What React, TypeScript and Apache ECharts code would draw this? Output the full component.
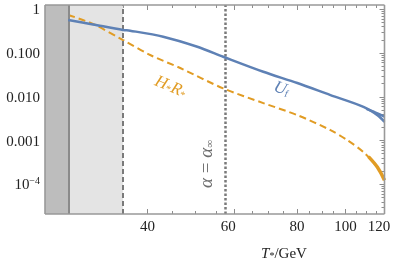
import React, { useEffect, useRef } from "react";
import * as echarts from "echarts";

// x-axis scale: temperature knots and their relative positions along the axis
const knotT = [25, 30, 35, 40, 45, 50, 55, 60, 65, 70, 75, 80, 85, 90, 95, 100, 105, 110, 115, 120];
const knotU = [0, 0.118, 0.23, 0.3018, 0.3755, 0.4425, 0.5044, 0.5584, 0.6097, 0.6587, 0.7012, 0.7425, 0.7796, 0.8162, 0.8504, 0.885, 0.9174, 0.9469, 0.9764, 1];

const xMajorT = [40, 60, 80, 100, 120];
const xMinorT = [30, 35, 45, 50, 55, 65, 70, 75, 85, 90, 95, 105, 110, 115];
const xLabels = ["40", "60", "80", "100", "120"];
const xLabelU = [0.3018, 0.54, 0.7425, 0.885, 0.984];

const yMajor = [1e-4, 1e-3, 1e-2, 1e-1, 1];
const yLabels = ["{b|10}{sup|−4}", "0.001", "0.010", "0.100", "1"];

// U_f curve
const ufT = [27.9, 31.05, 35, 36.44, 43.14, 50.5, 56.9, 68.4, 80.1, 93.6, 108.5, 115.6, 120];
const ufV = [0.569, 0.449, 0.336, 0.324, 0.236, 0.139, 0.0822, 0.0373, 0.0206, 0.01094, 0.0059, 0.00381, 0.00268];
const ufBranchT = [110, 115.6, 120];
const ufBranchV = [0.0053, 0.0042, 0.0035];

// H*R* curve
const hrT = [27.9, 31.05, 35, 40.54, 46.7, 56.9, 68.4, 80.1, 93.6, 100.9, 108.5, 115.6, 120];
const hrV = [0.741, 0.461, 0.198, 0.09, 0.0454, 0.01556, 0.00718, 0.00381, 0.00173, 0.00102, 0.000543, 0.000246, 0.000124];
const hrTailT = [111, 115.6, 120];
const hrTailV = [0.00043, 0.000246, 0.000124];

// regions / reference lines (in T)
const tMin = 25;
const tStart = 27.9;
const tDashed = 35;
const tAlpha = 57;

function tToU(t: number): number {
  if (t <= knotT[0]) return knotU[0];
  for (let i = 1; i < knotT.length; i++) {
    if (t <= knotT[i]) {
      const f = (t - knotT[i - 1]) / (knotT[i] - knotT[i - 1]);
      return knotU[i - 1] + f * (knotU[i] - knotU[i - 1]);
    }
  }
  return knotU[knotU.length - 1];
}

const pairs = (ts: number[], vs: number[]) => ts.map((t, i) => [tToU(t), vs[i]]);

const SERIF = "Liberation Serif, Times New Roman, serif";
const FRAME = "#999999";
const TICK = "#8c8c8c";
const BLUE = "#5E81B5";
const ORANGE = "#E19C24";

const yMinorVals: number[] = [];
for (let k = -5; k <= 0; k++) {
  for (let m = 2; m <= 9; m++) {
    const v = m * Math.pow(10, k);
    if (v > 2.1e-5 && v < 1.25) yMinorVals.push(v);
  }
}

const GRID = { left: 45, top: 5, right: 11.5, bottom: 47 };

export default function App() {
  const ref = useRef<HTMLDivElement>(null);
  useEffect(() => {
    if (!ref.current) return;
    const chart = echarts.init(ref.current, undefined, { renderer: "svg" });
    const yMin = 2.1e-5;
    const yMax = 1.25;
    const W = 396;
    const H = 261;
    const L = GRID.left;
    const R = W - GRID.right;
    const T = GRID.top;
    const B = H - GRID.bottom;

    const xBase = (position: "bottom" | "top", ticks: number[], len: number, labels: boolean) => ({
      type: "value",
      position,
      min: 0,
      max: 1,
      axisLine: { show: false, onZero: false },
      splitLine: { show: false },
      axisTick: {
        show: true,
        inside: true,
        length: len,
        lineStyle: { color: TICK, width: 1 },
        customValues: ticks.map(tToU),
      },
      axisLabel: labels
        ? {
            show: true,
            margin: 4,
            color: "#222",
            fontFamily: SERIF,
            fontSize: 15,
            customValues: xLabelU,
            formatter: (v: number) => {
              let best = 0;
              for (let i = 0; i < xLabelU.length; i++) {
                if (Math.abs(xLabelU[i] - v) < Math.abs(xLabelU[best] - v)) best = i;
              }
              return xLabels[best];
            },
          }
        : { show: false },
    });

    const yBase = (position: "left" | "right", ticks: number[], len: number, labels: boolean) => ({
      type: "log",
      logBase: 10,
      position,
      min: yMin,
      max: yMax,
      axisLine: { show: false, onZero: false },
      splitLine: { show: false },
      minorTick: { show: false },
      axisTick: {
        show: true,
        inside: true,
        length: len,
        lineStyle: { color: TICK, width: 1 },
        customValues: ticks,
      },
      axisLabel: labels
        ? {
            show: true,
            margin: 5,
            color: "#222",
            fontFamily: SERIF,
            fontSize: 15,
            customValues: yMajor,
            formatter: (v: number) => {
              const k = Math.round(Math.log10(v));
              const idx = yMajor.findIndex((m) => Math.round(Math.log10(m)) === k);
              return idx >= 0 ? yLabels[idx] : "";
            },
            rich: {
              b: { fontFamily: SERIF, fontSize: 15, color: "#222", lineHeight: 18 },
              sup: { fontFamily: SERIF, fontSize: 10, color: "#222", verticalAlign: "top", lineHeight: 12, padding: [0, 0, 6, 0] },
            },
          }
        : { show: false },
    });

    const frameLine = (x1: number, y1: number, x2: number, y2: number) => ({
      type: "line",
      z: 100,
      silent: true,
      shape: { x1, y1, x2, y2 },
      style: { stroke: FRAME, lineWidth: 1.6 },
    });

    chart.setOption({
      animation: false,
      grid: { ...GRID, containLabel: false },
      xAxis: [
        xBase("bottom", xMajorT, 5, true),
        xBase("bottom", xMinorT, 3, false),
        xBase("top", xMajorT, 5, false),
        xBase("top", xMinorT, 3, false),
      ],
      yAxis: [
        yBase("left", yMajor, 5, true),
        yBase("left", yMinorVals, 3, false),
        yBase("right", yMajor, 5, false),
        yBase("right", yMinorVals, 3, false),
      ],
      series: [
        {
          type: "line",
          name: "regions",
          data: [],
          silent: true,
          z: 1,
          markArea: {
            silent: true,
            data: [
              [{ xAxis: tToU(tMin), itemStyle: { color: "#bdbdbd" } }, { xAxis: tToU(tStart) }],
              [{ xAxis: tToU(tStart), itemStyle: { color: "#e4e4e4" } }, { xAxis: tToU(tDashed) }],
            ],
          },
          markLine: {
            silent: true,
            symbol: ["none", "none"],
            label: { show: false },
            data: [
              { xAxis: tToU(tStart), lineStyle: { color: "#8a8a8a", width: 2, type: "solid" } },
              { xAxis: tToU(tDashed), lineStyle: { color: "#7a7a7a", width: 2, type: [5, 3] } },
              { xAxis: tToU(tAlpha), lineStyle: { color: "#7a7a7a", width: 2.5, type: [2.5, 2] } },
            ],
          },
        },
        {
          type: "line",
          name: "Uf",
          data: pairs(ufT, ufV),
          smooth: 0.3,
          showSymbol: false,
          lineStyle: { color: BLUE, width: 2.5 },
          z: 5,
        },
        {
          type: "line",
          name: "Uf branch",
          data: pairs(ufBranchT, ufBranchV),
          smooth: 0.3,
          showSymbol: false,
          lineStyle: { color: BLUE, width: 2.5 },
          z: 5,
        },
        {
          type: "line",
          name: "HR",
          data: pairs(hrT, hrV),
          smooth: 0.3,
          showSymbol: false,
          lineStyle: { color: ORANGE, width: 2, type: [7, 4] },
          z: 4,
        },
        {
          type: "line",
          name: "HR tail",
          data: pairs(hrTailT, hrTailV),
          smooth: 0.3,
          showSymbol: false,
          lineStyle: { color: ORANGE, width: 3.5 },
          z: 4,
        },
      ],
      graphic: [
        frameLine(L, T, R, T),
        frameLine(L, B, R, B),
        frameLine(L, T, L, B),
        frameLine(R, T, R, B),
        {
          type: "text",
          x: 171,
          y: 86,
          rotation: -0.4,
          style: {
            text: "{i|H}{s|*}{i|R}{s|*}",
            align: "center",
            verticalAlign: "middle",
            rich: {
              i: { fontFamily: SERIF, fontStyle: "italic", fontSize: 17, fill: ORANGE, color: ORANGE },
              s: { fontFamily: SERIF, fontSize: 10, fill: ORANGE, color: ORANGE, verticalAlign: "bottom" },
            },
          },
        },
        {
          type: "text",
          x: 282,
          y: 88,
          rotation: -0.36,
          style: {
            text: "{i|U}{s|f}",
            align: "center",
            verticalAlign: "middle",
            rich: {
              i: { fontFamily: SERIF, fontStyle: "italic", fontSize: 17, fill: BLUE, color: BLUE },
              s: { fontFamily: SERIF, fontSize: 10, fill: BLUE, color: BLUE, verticalAlign: "bottom" },
            },
          },
        },
        {
          type: "text",
          x: 205,
          y: 164,
          rotation: Math.PI / 2,
          style: {
            text: "{a|α}{n| = }{a|α}{s|∞}",
            align: "center",
            verticalAlign: "middle",
            rich: {
              a: { fontFamily: SERIF, fontStyle: "italic", fontSize: 19, fill: "#6e6e6e", color: "#6e6e6e" },
              n: { fontFamily: SERIF, fontSize: 19, fill: "#6e6e6e", color: "#6e6e6e" },
              s: { fontFamily: SERIF, fontSize: 11, fill: "#6e6e6e", color: "#6e6e6e", verticalAlign: "bottom" },
            },
          },
        },
        {
          type: "text",
          x: 284,
          y: 253,
          style: {
            text: "{i|T}{s|*}{n|/GeV}",
            align: "center",
            verticalAlign: "middle",
            rich: {
              i: { fontFamily: SERIF, fontStyle: "italic", fontSize: 15, fill: "#222", color: "#222" },
              s: { fontFamily: SERIF, fontSize: 10, fill: "#222", color: "#222", verticalAlign: "bottom" },
              n: { fontFamily: SERIF, fontSize: 15, fill: "#222", color: "#222" },
            },
          },
        },
      ],
    });
    return () => chart.dispose();
  }, []);
  return <div ref={ref} style={{ position: "fixed", left: 0, top: 0, width: 396, height: 261 }} />;
}
